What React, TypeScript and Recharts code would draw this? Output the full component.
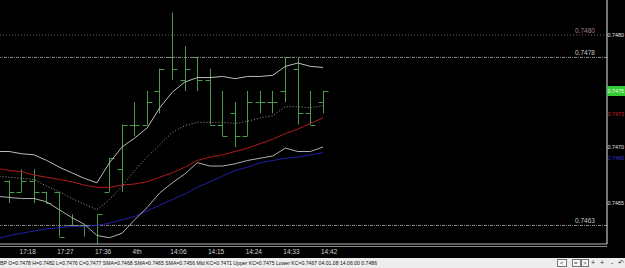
import React from "react";
import { ComposedChart, Bar, Line, XAxis, YAxis, ReferenceLine } from "recharts";

// bar index: 0 is the bar just off the left edge (only the indicator lines reach it)
const barIndex = [0, 1, 2, 3, 4, 5, 6, 7, 8, 9, 10, 11, 12, 13, 14, 15, 16, 17, 18, 19, 20, 21, 22, 23, 24, 25, 26];

const opens = [null, 0.7467, 0.7466, 0.7467, 0.7466, 0.7466, 0.7463, 0.7463, 0.7463, 0.7466, 0.7468, 0.7472, 0.7472, 0.7475, 0.7478, 0.7476, 0.7478, 0.7476, 0.7472, 0.7473, 0.7471, 0.7474, 0.7474, 0.7475, 0.7477, 0.7473, 0.7474];
const highs = [null, 0.7467, 0.7468, 0.7468, 0.7466, 0.7466, 0.7464, 0.7463, 0.7464, 0.7469, 0.7472, 0.7474, 0.7475, 0.7477, 0.7482, 0.7479, 0.7478, 0.7477, 0.7475, 0.7474, 0.7475, 0.7475, 0.7475, 0.7478, 0.7478, 0.7475, 0.7475];
const lows = [null, 0.7465, 0.7466, 0.7465, 0.7465, 0.7462, 0.7463, 0.7462, 0.7461, 0.7466, 0.7466, 0.7471, 0.7472, 0.7473, 0.7476, 0.7475, 0.7475, 0.7472, 0.7471, 0.747, 0.7471, 0.7473, 0.7473, 0.7474, 0.7472, 0.7472, 0.7473];
const closes = [null, 0.7466, 0.7467, 0.7466, 0.7465, 0.7462, 0.7463, 0.7463, 0.7464, 0.7469, 0.7472, 0.7472, 0.7474, 0.7477, 0.7477, 0.7477, 0.7476, 0.7472, 0.7471, 0.7471, 0.7474, 0.7474, 0.7474, 0.7478, 0.7473, 0.7472, 0.7475];

// Keltner channel
const upperKC = [0.74696, 0.74696, 0.74694, 0.74693, 0.74688, 0.74682, 0.74677, 0.74672, 0.74668, 0.74686, 0.747, 0.74708, 0.74717, 0.74735, 0.74749, 0.74758, 0.74762, 0.74762, 0.74763, 0.74761, 0.74763, 0.74763, 0.74764, 0.74772, 0.74775, 0.74772, 0.74771];
const midKC = [0.74674, 0.74673, 0.74672, 0.74671, 0.74665, 0.7466, 0.74654, 0.74649, 0.74644, 0.74653, 0.74665, 0.74679, 0.74691, 0.74702, 0.74713, 0.74719, 0.74722, 0.74722, 0.74722, 0.74721, 0.74723, 0.74726, 0.74728, 0.74736, 0.74736, 0.74735, 0.74737];
const lowerKC = [0.74656, 0.74655, 0.74654, 0.74654, 0.74651, 0.74644, 0.74637, 0.74631, 0.74621, 0.74619, 0.74623, 0.74635, 0.74646, 0.74659, 0.74668, 0.74676, 0.74686, 0.74683, 0.74683, 0.74685, 0.74688, 0.7469, 0.74692, 0.74699, 0.74696, 0.74696, 0.747];

// moving averages
const smaRed = [0.74681, 0.74679, 0.74678, 0.74675, 0.74673, 0.74671, 0.74669, 0.74666, 0.74664, 0.74664, 0.74666, 0.74667, 0.74669, 0.74673, 0.74677, 0.74682, 0.74688, 0.74691, 0.74693, 0.74696, 0.74699, 0.74703, 0.74707, 0.74712, 0.74716, 0.74721, 0.74726];
const smaBlue = [0.74618, 0.74621, 0.74623, 0.74625, 0.74627, 0.74628, 0.74629, 0.74629, 0.7463, 0.74632, 0.74635, 0.74638, 0.74643, 0.74648, 0.74653, 0.74658, 0.74664, 0.74669, 0.74674, 0.74679, 0.74682, 0.74686, 0.74688, 0.7469, 0.74691, 0.74693, 0.74695];

const timeTicks = [2, 5, 8, 11, 14, 17, 20, 23, 26];
const timeLabels = ["17:18", "17:27", "17:36", "4th", "14:06", "14:15", "14:24", "14:33", "14:42"];

const priceTicks = [0.748, 0.7475, 0.7473, 0.747, 0.7469, 0.7465];
const hLines = [
  { price: 0.748, label: "0.7480", color: "#7d5f5f", dash: "1 2" },
  { price: 0.7478, label: "0.7478", color: "#8c8c8c", dash: "3 1 1 1" },
  { price: 0.7463, label: "0.7463", color: "#8c8c8c", dash: "3 1 1 1" },
];

const statusText =
  "BP O=0.7478 H=0.7482 L=0.7476 C=0.7477  SMA=0.7468 SMA=0.7465 SMA=0.7456 Mid KC=0.7471 Upper KC=0.7475 Lower KC=0.7467  04.01.08 14:06:00 0.7486";

const data = barIndex.map((i, k) => ({
  i,
  o: opens[k],
  h: highs[k],
  l: lows[k],
  c: closes[k],
  upper: upperKC[k],
  mid: midKC[k],
  lower: lowerKC[k],
  red: smaRed[k],
  blue: smaBlue[k],
}));

const FONT = "'Liberation Sans', Arial, sans-serif";

const OhlcBar = (props: any) => {
  const { x, y, width, height, payload } = props;
  if (payload.h == null) return null;
  const top = Math.min(y, y + height);
  const bot = Math.max(y, y + height);
  const cx = Math.round(x + width / 2) + 0.5;
  const span = payload.h - payload.l;
  const py = (v: number) => Math.round(span === 0 ? top : top + ((payload.h - v) / span) * (bot - top)) + 0.5;
  return (
    <g stroke="#4c9a4c" strokeWidth={1}>
      <line x1={cx} x2={cx} y1={top} y2={bot} />
      <line x1={cx - 5} x2={cx} y1={py(payload.o)} y2={py(payload.o)} />
      <line x1={cx} x2={cx + 5} y1={py(payload.c)} y2={py(payload.c)} />
    </g>
  );
};

const PriceTick = (props: any) => {
  const { x, y, payload } = props;
  const v = payload.value;
  const txt = v.toFixed(4);
  if (Math.abs(v - 0.7475) < 1e-6) {
    return (
      <g>
        <rect x={x} y={y - 5} width={18} height={10} fill="#33cc33" />
        <text x={x + 0.5} y={y + 2.2} fontSize={5.6} fill="#e8ffe8" fontFamily={FONT} textLength={16.5} lengthAdjust="spacingAndGlyphs">{txt}</text>
      </g>
    );
  }
  let fill = "#e0e0e0";
  if (Math.abs(v - 0.7473) < 1e-6) fill = "#d42020";
  if (Math.abs(v - 0.7469) < 1e-6) fill = "#3030d8";
  return (
    <text x={x + 0.5} y={y + 2.2} fontSize={5.6} fill={fill} fontFamily={FONT} textLength={16.5} lengthAdjust="spacingAndGlyphs">{txt}</text>
  );
};

const TimeTick = (props: any) => {
  const { x, y, payload } = props;
  const k = timeTicks.indexOf(payload.value);
  return (
    <text x={x - 2} y={y + 10} fontSize={6.5} fill="#d0d0d0" fontFamily={FONT}>{timeLabels[k]}</text>
  );
};

export default function App() {
  return (
    <div style={{ position: "absolute", left: 0, top: 0, width: 625, height: 268, background: "#000", overflow: "hidden" }}>
      <ComposedChart
        width={625}
        height={258}
        data={data}
        margin={{ top: 0, right: 0, left: 0, bottom: 0 }}
      >
        <XAxis
          dataKey="i"
          type="number"
          domain={[0.283, 48.61]}
          allowDataOverflow
          ticks={timeTicks}
          tick={<TimeTick />}
          interval={0}
          tickLine={false}
          tickSize={0}
          tickMargin={0}
          axisLine={{ stroke: "#b8b8b8" }}
          height={14}
        />
        <YAxis
          orientation="right"
          type="number"
          domain={[0.746134, 0.7483125]}
          allowDataOverflow
          ticks={priceTicks}
          tick={<PriceTick />}
          interval={0}
          tickLine={false}
          tickSize={0}
          tickMargin={0}
          axisLine={{ stroke: "#e8e8e8" }}
          width={18}
        />
        {hLines.map((ln) => (
          <ReferenceLine
            key={ln.label}
            y={ln.price}
            stroke={ln.color}
            strokeDasharray={ln.dash}
            label={(p: any) => (
              <text
                x={p.viewBox.x + p.viewBox.width - 32}
                y={p.viewBox.y - 2}
                fontSize={6.5}
                fill={ln.color === "#7d5f5f" ? "#a08080" : "#c8c8c8"}
                fontFamily={FONT}
              >
                {ln.label}
              </text>
            )}
          />
        ))}
        <Line dataKey="blue" stroke="#1f1fa8" strokeWidth={1} dot={false} isAnimationActive={false} />
        <Line dataKey="red" stroke="#b01c1c" strokeWidth={1} dot={false} isAnimationActive={false} />
        <Line dataKey="lower" stroke="#b0b0b0" strokeWidth={1} dot={false} isAnimationActive={false} />
        <Line dataKey="mid" stroke="#9a9a9a" strokeWidth={1} strokeDasharray="1 2" dot={false} isAnimationActive={false} />
        <Line dataKey="upper" stroke="#bcbcbc" strokeWidth={1} dot={false} isAnimationActive={false} />
        <Bar
          dataKey={(d: any) => (d.h == null ? null : [d.l, d.h])}
          barSize={6}
          shape={<OhlcBar />}
          isAnimationActive={false}
        />
      </ComposedChart>
      {/* second frame line under the time axis */}
      <div style={{ position: "absolute", left: 0, top: 246, width: 607, height: 1, background: "#8a8a8a" }} />
      <svg width={625} height={10} style={{ position: "absolute", left: 0, top: 258, display: "block" }}>
        <rect x={0} y={0} width={625} height={10} fill="#ededed" />
        <text x={0} y={7} fontSize={6} fill="#111" fontFamily={FONT} textLength={377} lengthAdjust="spacingAndGlyphs">
          {statusText}
        </text>
        <rect x={557.5} y={1.5} width={9} height={7} fill="#f6f6f6" stroke="#777" />
        <text x={560} y={7} fontSize={6} fill="#333" fontFamily={FONT}>&lt;</text>
        <rect x={572.5} y={1.5} width={8} height={7} fill="#f6f6f6" stroke="#777" />
        <text x={574} y={7} fontSize={6} fill="#333" fontFamily={FONT}>=</text>
        <rect x={581.5} y={1.5} width={7} height={7} fill="#f6f6f6" stroke="#777" />
        <text x={583} y={7} fontSize={6} fill="#333" fontFamily={FONT}>&gt;</text>
        <text x={591} y={7} fontSize={7} fill="#333" fontFamily={FONT}>+</text>
        <text x={600} y={7} fontSize={7} fill="#333" fontFamily={FONT}>+</text>
        <text x={611} y={7} fontSize={7} fill="#333" fontFamily={FONT}>-</text>
        <text x={618} y={7} fontSize={7} fill="#333" fontFamily={FONT}>↶</text>
      </svg>
    </div>
  );
}
